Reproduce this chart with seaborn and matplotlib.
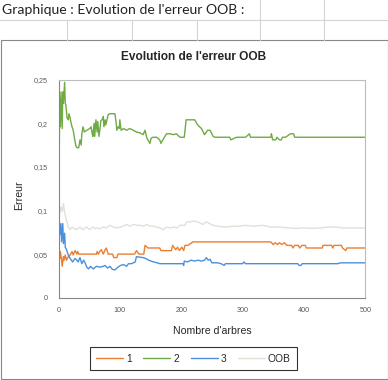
import matplotlib
matplotlib.use("Agg")
import matplotlib.pyplot as plt
from matplotlib.lines import Line2D
from matplotlib.patches import Rectangle
import seaborn as sns

# arbres / erreur (serie 1, 2, 3 et OOB)
trees_1 = [
    1, 2, 3, 5, 6, 8, 9, 11, 13, 16,
    19, 22, 24, 27, 30, 31, 33, 62, 63, 65,
    67, 70, 73, 76, 78, 81, 83, 88, 90, 95,
    97, 124, 127, 131, 139, 141, 146, 165, 167, 184,
    186, 191, 194, 197, 201, 204, 206, 211, 219, 346,
    350, 353, 357, 360, 364, 368, 372, 380, 382, 385,
    391, 393, 397, 402, 404, 430, 431, 445, 447, 449,
    461, 463, 468, 470, 500]
err_1 = [
    .057, .045, .053, .043, .036, .047, .043, .049, .043, .047,
    .049, .053, .049, .054, .050, .053, .050, .050, .053, .050,
    .053, .055, .050, .055, .057, .050, .050, .050, .046, .046,
    .050, .050, .054, .050, .050, .060, .057, .057, .054, .054,
    .060, .055, .058, .054, .058, .054, .060, .060, .064, .064,
    .061, .063, .061, .063, .061, .063, .060, .060, .057, .060,
    .060, .057, .060, .060, .057, .057, .060, .060, .057, .060,
    .060, .057, .054, .057, .057]

trees_2 = [
    1, 2, 3, 4, 6, 7, 8, 10, 11, 12,
    14, 16, 17, 19, 20, 22, 24, 26, 28, 30,
    33, 35, 37, 38, 40, 42, 46, 51, 53, 55,
    56, 58, 59, 61, 63, 64, 66, 68, 69, 71,
    73, 74, 76, 77, 81, 84, 88, 92, 94, 95,
    97, 99, 100, 102, 106, 111, 116, 122, 127, 133,
    138, 141, 144, 149, 151, 154, 160, 165, 167, 170,
    176, 182, 187, 192, 198, 205, 208, 211, 222, 227,
    233, 238, 243, 247, 252, 255, 279, 281, 290, 305,
    311, 313, 333, 346, 347, 349, 354, 356, 360, 363,
    365, 370, 378, 383, 385, 500]
err_2 = [
    .150, .229, .196, .236, .194, .236, .223, .247, .223, .221,
    .206, .204, .211, .206, .202, .196, .192, .183, .175, .172,
    .172, .181, .175, .188, .196, .190, .192, .194, .196, .188,
    .185, .200, .185, .204, .190, .202, .185, .196, .203, .204,
    .208, .196, .204, .198, .210, .211, .211, .211, .200, .192,
    .196, .194, .204, .192, .194, .192, .194, .192, .190, .189,
    .187, .192, .183, .177, .183, .184, .184, .181, .177, .181,
    .188, .188, .187, .188, .184, .184, .204, .204, .204, .198,
    .194, .187, .192, .192, .185, .184, .184, .181, .184, .184,
    .188, .184, .184, .184, .188, .181, .181, .184, .181, .181,
    .184, .184, .188, .188, .184, .184]

trees_3 = [
    1, 2, 4, 5, 7, 8, 10, 11, 13, 16,
    19, 23, 27, 30, 32, 35, 38, 41, 44, 46,
    49, 52, 57, 60, 62, 68, 73, 76, 80, 84,
    87, 90, 92, 97, 101, 106, 111, 114, 119, 125,
    127, 138, 142, 147, 155, 161, 165, 203, 204, 205,
    210, 216, 222, 227, 233, 238, 241, 244, 247, 250,
    259, 265, 270, 272, 300, 302, 305, 390, 392, 395,
    397, 455, 460, 500]
err_3 = [
    .097, .072, .085, .064, .085, .062, .074, .058, .055, .049,
    .045, .041, .045, .043, .041, .046, .039, .043, .039, .035,
    .033, .036, .033, .035, .036, .035, .036, .037, .034, .036,
    .033, .032, .032, .035, .037, .038, .036, .039, .039, .041,
    .047, .046, .045, .043, .041, .040, .039, .039, .037, .042,
    .041, .043, .042, .043, .042, .043, .046, .043, .044, .040,
    .040, .039, .037, .039, .039, .041, .039, .039, .037, .037,
    .039, .039, .040, .040]

trees_oob = [
    1, 2, 4, 6, 8, 10, 13, 16, 19, 22,
    24, 27, 30, 33, 35, 38, 40, 43, 46, 49,
    51, 54, 57, 60, 62, 67, 73, 78, 84, 89,
    95, 100, 105, 111, 116, 122, 128, 133, 138, 144,
    149, 154, 160, 165, 171, 176, 182, 187, 193, 198,
    206, 209, 214, 222, 230, 235, 241, 246, 252, 260,
    271, 285, 298, 303, 318, 333, 346, 360, 375, 387,
    400, 411, 427, 438, 455, 460, 471, 500]
err_oob = [
    .116, .097, .104, .099, .108, .097, .089, .081, .078, .081,
    .080, .079, .078, .080, .081, .079, .078, .080, .081, .079,
    .078, .080, .081, .079, .080, .079, .081, .080, .083, .081,
    .080, .081, .082, .084, .082, .084, .083, .083, .082, .084,
    .082, .082, .081, .080, .078, .081, .080, .081, .080, .083,
    .083, .087, .087, .088, .086, .084, .087, .085, .083, .082,
    .081, .082, .082, .083, .082, .083, .081, .081, .080, .0795,
    .080, .0795, .080, .081, .081, .080, .080, .080]

series_labels = ["1", "2", "3", "OOB"]
series_colors = ["#ED7D31", "#6FAA45", "#4A90DE", "#DCE3D7"]

x_ticks = [0, 100, 200, 300, 400, 500]
y_ticks = [0, 0.05, 0.1, 0.15, 0.2, 0.25]
y_tick_labels = ["0", "0,05", "0,1", "0,15", "0,2", "0,25"]

W, H = 388, 380


def fx(px):
    return px / W


def fy(py):
    return 1 - py / H


def hline(fig, py, x0, x1, color, lw=0.8):
    fig.add_artist(Line2D([fx(x0), fx(x1)], [fy(py), fy(py)], color=color, lw=lw))


def vline(fig, px, y0, y1, color, lw=0.8):
    fig.add_artist(Line2D([fx(px), fx(px)], [fy(y0), fy(y1)], color=color, lw=lw))


sns.set_style("white")
plt.rcParams["font.family"] = ["Liberation Sans", "DejaVu Sans"]

fig = plt.figure(figsize=(W / 100, H / 100), dpi=100)
fig.patch.set_facecolor("white")

# grille de la feuille excel
grid = "#D4D4D4"
hline(fig, 19.5, 0, W, grid)
for px in [259.5, 323.5]:
    vline(fig, px, 0, 19.5, grid)
for px in [66.5, 131.5, 196.5, 259.5, 323.5]:
    vline(fig, px, 19.5, 39.5, grid)
fig.text(fx(2), fy(10.5), "Graphique : Evolution de l'erreur OOB :", ha="left", va="center",
         fontsize=10.1, color="#222222", family=["Lato", "DejaVu Sans"])

# cadre du graphique
fig.add_artist(Rectangle((fx(0.5), fy(378.5)), fx(387), (378.5 - 39.5) / H,
                         fill=False, edgecolor="#888888", lw=0.8))

ax = fig.add_axes([fx(58.5), fy(297.7), (365.3 - 58.5) / W, (297.7 - 79.7) / H])
for t, e, lab, col in zip([trees_1, trees_2, trees_3, trees_oob],
                          [err_1, err_2, err_3, err_oob], series_labels, series_colors):
    sns.lineplot(x=t, y=e, ax=ax, color=col, linewidth=1.0, label=lab, estimator=None)

ax.set_xlim(0, 500)
ax.set_ylim(0, 0.25)
ax.set_xticks(x_ticks)
ax.set_yticks(y_ticks)
ax.set_yticklabels(y_tick_labels)
ax.tick_params(axis="both", direction="inout", length=3.5, width=0.8, color="#868686",
               labelsize=5.2, labelcolor="#595959")
ax.tick_params(axis="y", pad=6.2)
ax.tick_params(axis="x", pad=4.6)
for side in ["left", "bottom"]:
    ax.spines[side].set_color("#868686")
    ax.spines[side].set_linewidth(0.8)
for side in ["top", "right"]:
    ax.spines[side].set_color("#BDBDBD")
    ax.spines[side].set_linewidth(0.8)

ax.set_xlabel("Nombre d'arbres", fontsize=7.6)
ax.set_ylabel("Erreur", fontsize=7.6)
ax.xaxis.set_label_coords(0.5, (297.7 - 326) / 218)
ax.yaxis.set_label_coords((24 - 58.5) / 306.8, (297.7 - 195) / 218)

fig.text(fx(194), fy(56.5), "Evolution de l'erreur OOB", ha="center", va="center",
         fontsize=8.6, fontweight="bold")

handles, labels = ax.get_legend_handles_labels()
ax.get_legend().remove()
leg = fig.legend(handles, labels, loc="center", bbox_to_anchor=(fx(193.5), fy(358.5)),
                 ncol=4, fontsize=7.4, frameon=True, fancybox=False, edgecolor="black",
                 handlelength=2.6, handletextpad=0.3, columnspacing=1.15, borderpad=0.6)
leg.get_frame().set_linewidth(0.8)

fig.savefig("out.png", dpi=100, facecolor="white")
